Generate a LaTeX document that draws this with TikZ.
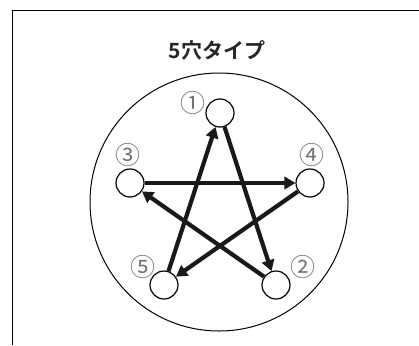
\documentclass[tikz,border=0pt]{standalone}
\usepackage{fontspec}
\setmainfont{Noto Sans CJK JP}[BoldFont={Noto Sans CJK JP Bold}]
\usetikzlibrary{arrows.meta}
\begin{document}
\begin{tikzpicture}[x=1pt,y=-1pt,
  hole/.style={circle,draw,line width=1.2pt,fill=white,minimum size=28pt,inner sep=0pt},
  num/.style={font=\fontsize{25}{25}\selectfont,text=black!55,inner sep=0pt},
  flow/.style={line width=4.2pt,-{Triangle[length=11pt,width=12.5pt]},black!90}]
\useasboundingbox (0,0) rectangle (419,345);
\draw[line width=0.9pt] (12,345) |- (419,10);
\node[font=\fontsize{21}{21}\selectfont\bfseries,text=black!85] (title) at (217,50) {5穴タイプ};
\node[circle,draw,line width=1pt,minimum size=258pt,inner sep=0pt] (plate) at (219,202) {};
\node[hole] (h1) at (220,113) {};
\node[hole] (h2) at (276,285) {};
\node[hole] (h3) at (130,183) {};
\node[hole] (h4) at (310,183) {};
\node[hole] (h5) at (164,285) {};
\node[num] (l1) at (193,103) {①};
\node[num] (l2) at (303,267) {②};
\node[num] (l3) at (128,155) {③};
\node[num] (l4) at (312,155) {④};
\node[num] (l5) at (143,267) {⑤};
\draw[flow] (h1) -- (h2);
\draw[flow] (h2) -- (h3);
\draw[flow] (h3) -- (h4);
\draw[flow] (h4) -- (h5);
\draw[flow] (h5) -- (h1);
\end{tikzpicture}
\end{document}
